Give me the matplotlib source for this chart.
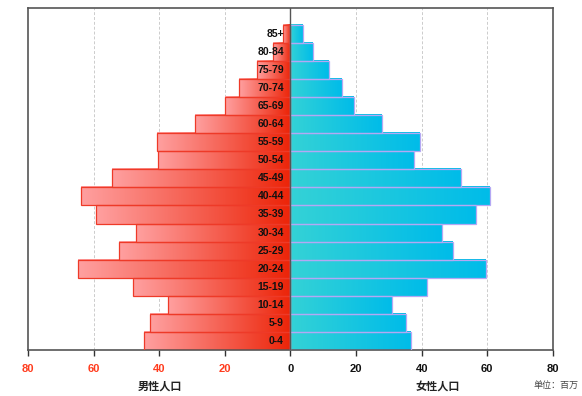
import numpy as np
import matplotlib
matplotlib.use("Agg")
import matplotlib.pyplot as plt
from matplotlib.colors import LinearSegmentedColormap

plt.rcParams['font.family'] = ['Noto Sans CJK SC', 'DejaVu Sans']

ages = ["0-4", "5-9", "10-14", "15-19", "20-24", "25-29", "30-34", "35-39",
        "40-44", "45-49", "50-54", "55-59", "60-64", "65-69", "70-74",
        "75-79", "80-84", "85+"]
male = [44.6, 42.8, 37.3, 47.9, 64.7, 52.3, 47.1, 59.2, 63.7, 54.3,
        40.3, 40.7, 29.1, 19.8, 15.7, 10.3, 5.4, 2.2]
female = [36.6, 35.2, 31.1, 41.5, 59.6, 49.6, 46.1, 56.6, 60.9, 51.9,
          37.8, 39.5, 28.0, 19.4, 15.8, 11.7, 6.8, 3.8]
xticks = [-80, -60, -40, -20, 0, 20, 40, 60, 80]

male_cmap = LinearSegmentedColormap.from_list("m", ["#ffa0a0", "#ec2408"])
female_cmap = LinearSegmentedColormap.from_list("f", ["#34d2d6", "#00bce9"])
grad = np.linspace(0, 1, 256).reshape(1, -1)

fig = plt.figure(figsize=(5.82, 3.96), dpi=100)
ax = fig.add_axes([0.048, 0.116, 0.902, 0.865])

y = np.arange(len(ages))
mbars = ax.barh(y, [-v for v in male], height=1, color="none",
                edgecolor="#ee3a28", linewidth=0.9, zorder=3)
fbars = ax.barh(y, female, height=1, color="none",
                edgecolor="#b4a8f4", linewidth=0.9, zorder=3)

for bars, cmap in ((mbars, male_cmap), (fbars, female_cmap)):
    for b in bars:
        x0, y0 = b.get_x(), b.get_y()
        x1, y1 = x0 + b.get_width(), y0 + b.get_height()
        ax.imshow(grad, cmap=cmap, aspect="auto", zorder=2,
                  extent=(min(x0, x1), max(x0, x1), y0, y1))

ax.set_xlim(-80, 80)
ax.set_ylim(-0.5, 18.45)

for t in [-60, -40, -20, 20, 40, 60]:
    ax.axvline(t, color="#cccccc", linestyle=(0, (3, 2)), linewidth=0.7, zorder=1)
ax.axvline(0, color="#555555", linewidth=1.0, zorder=4)

for i, a in enumerate(ages):
    ax.text(-2, i, a, ha="right", va="center", fontsize=7.5,
            fontweight="bold", color="#111111", zorder=5, family="Liberation Sans")

ax.set_xticks(xticks)
ax.set_xticklabels([str(abs(t)) for t in xticks], fontweight="bold",
                   fontsize=8, family="Liberation Sans")
for lbl, t in zip(ax.get_xticklabels(), xticks):
    lbl.set_color("#ff3c1e" if t < 0 else "#111111")
ax.tick_params(axis="x", length=4, width=1, color="#333333", pad=6)
ax.set_yticks([])

for s in ax.spines.values():
    s.set_color("#555555")
    s.set_linewidth(1.2)

fig.text(160 / 582, 1 - 386 / 396, "男性人口", ha="center", va="center",
         fontsize=8, fontweight="bold", color="#222222")
fig.text(438 / 582, 1 - 386 / 396, "女性人口", ha="center", va="center",
         fontsize=8, fontweight="bold", color="#222222")
fig.text(556 / 582, 1 - 385 / 396, "单位：百万", ha="center", va="center",
         fontsize=6.5, color="#444444")

fig.savefig("out.png", dpi=100)
